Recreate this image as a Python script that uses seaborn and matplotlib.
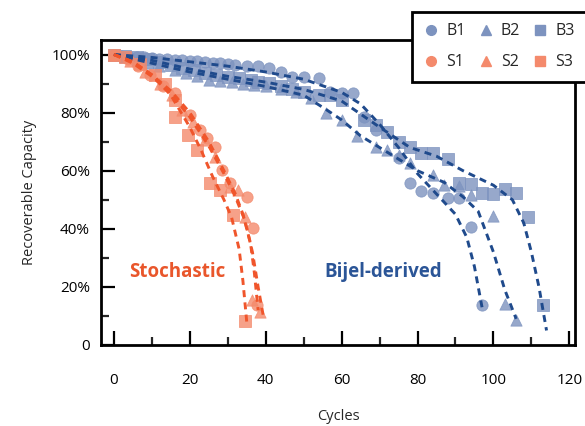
import matplotlib
matplotlib.use("Agg")
import matplotlib.pyplot as plt
from matplotlib.lines import Line2D
import seaborn as sns
import pandas as pd

# Measured capacity retention (cycle number, % of initial capacity)
B1_cycles = [0, 2, 4, 6, 8, 10, 12, 14, 16, 18, 20, 22, 24, 26, 28, 30, 32, 35, 38, 41,
             44, 47, 50, 54, 57, 60, 63, 66, 69, 75, 78, 81, 84, 88, 91, 94, 97]
B1_cap = [100, 99.5, 99.3, 99, 99, 98.8, 98.5, 98.3, 98.2, 98, 97.8, 97.6, 97.5, 97.2, 97,
          96.8, 96.5, 96.2, 95.9, 95.5, 94.1, 92.4, 92.4, 92, 87.2, 86.9, 86.9, 78.6, 74,
          64.5, 55.9, 53.1, 52.4, 50.7, 50.7, 40.7, 13.8]

B2_cycles = [0, 3, 6, 9, 12, 16, 19, 22, 25, 28, 31, 34, 37, 40, 44, 48, 52, 56, 60, 64,
             69, 72, 75, 78, 84, 87, 91, 94, 100, 103, 106]
B2_cap = [100, 99, 98, 97, 96, 94.5, 93.5, 92.5, 91.4, 91, 90.5, 90, 89.5, 89, 88, 87, 85,
          80, 77.6, 72, 68.3, 67, 65.5, 62.8, 58.6, 55.2, 54.8, 51.7, 44.5, 14.1, 8.6]

B3_cycles = [0, 3, 6, 9, 12, 15, 18, 21, 24, 27, 30, 33, 36, 38, 41, 44, 47, 50, 54, 57,
             60, 66, 69, 72, 75, 78, 81, 84, 88, 91, 94, 97, 100, 103, 106, 109, 113]
B3_cap = [100, 99.5, 99, 98.5, 97.5, 96.5, 95.5, 94.5, 93.8, 93, 92.4, 91.8, 91.2, 90.7,
          90.3, 89, 88.3, 87.2, 86.2, 86.2, 84.5, 77.6, 75.9, 73.4, 70, 68.3, 66.2, 66.2,
          64.1, 55.9, 55.5, 52.4, 52.1, 53.8, 52.4, 44.1, 13.8]

S1_cycles = [0, 3.7, 6.3, 9.5, 12.9, 16, 20, 22.7, 24.5, 26.6, 28.5, 30.6, 35.1, 36.7, 37.7]
S1_cap = [100, 98.3, 95.9, 93.1, 89, 86.9, 79.3, 74.1, 71.4, 68.3, 60.3, 55.9, 51, 40.3, 13.8]

S2_cycles = [0, 4.2, 8.2, 12.1, 15.3, 17.9, 20.8, 24, 26.6, 30.6, 32.7, 34.6, 36.4, 38.5]
S2_cap = [100, 97.6, 94.1, 89.7, 86.2, 81, 76.6, 70.7, 64.8, 54.5, 53.4, 44.1, 15.5, 11.4]

S3_cycles = [0, 2.9, 6.9, 10.8, 13.5, 16, 16.1, 19.5, 22, 25.3, 28, 31.4, 34.6]
S3_cap = [100, 99, 96.6, 93.1, 89.7, 84.5, 78.6, 72.4, 67, 55.9, 53.4, 44.8, 8.3]

# Fitted fade curves
B1_fit_x = [0, 10, 20, 30, 40, 50, 60, 65, 70, 75, 80, 85, 90, 93, 95, 97]
B1_fit_y = [100, 99, 97.5, 96, 94, 91.5, 87, 83, 76, 68, 59, 52, 45, 37, 27, 13]
B2_fit_x = [0, 10, 20, 30, 40, 50, 56, 60, 65, 70, 75, 80, 87, 92, 96, 100, 103, 106]
B2_fit_y = [100, 97, 94, 91.5, 89, 86, 81, 77.5, 72, 68, 64, 60, 56, 51, 46, 32, 19, 9]
B3_fit_x = [0, 10, 20, 30, 40, 50, 60, 70, 78, 85, 92, 100, 105, 108, 110, 112, 114]
B3_fit_y = [100, 98, 95, 92.5, 90.5, 88, 84, 75, 68, 65, 60, 55, 50, 42, 32, 20, 5]
S1_fit_x = [0, 5, 10, 15, 20, 25, 29, 32, 34, 36, 37, 38]
S1_fit_y = [100, 97.5, 93, 87.5, 80, 70, 60, 52, 45, 35, 25, 12]
S2_fit_x = [0, 5, 10, 15, 20, 25, 29, 32, 34.5, 36.5, 38, 39.5]
S2_fit_y = [100, 97, 92.5, 86.5, 78.5, 68.5, 59, 51, 43, 32, 20, 9]
S3_fit_x = [0, 5, 10, 15, 20, 23, 26, 29, 31, 33, 34, 35]
S3_fit_y = [100, 97.5, 93, 86, 75, 67, 58, 50, 44, 33, 22, 8]

series_names = ["B1", "B2", "B3", "S1", "S2", "S3"]
x_ticks = [0, 20, 40, 60, 80, 100, 120]
y_ticks = [0, 20, 40, 60, 80, 100]
y_tick_labels = ["0", "20%", "40%", "60%", "80%", "100%"]

points = {"B1": (B1_cycles, B1_cap), "B2": (B2_cycles, B2_cap), "B3": (B3_cycles, B3_cap),
          "S1": (S1_cycles, S1_cap), "S2": (S2_cycles, S2_cap), "S3": (S3_cycles, S3_cap)}
fits = {"B1": (B1_fit_x, B1_fit_y), "B2": (B2_fit_x, B2_fit_y), "B3": (B3_fit_x, B3_fit_y),
        "S1": (S1_fit_x, S1_fit_y), "S2": (S2_fit_x, S2_fit_y), "S3": (S3_fit_x, S3_fit_y)}

marker_of = {"1": "o", "2": "^", "3": "s"}
blue_pt, blue_ln = "#7d93bf", "#1f4a8c"
red_pt, red_ln = "#f48a6c", "#f0552b"

sns.set_theme(style="ticks")
plt.rcParams["font.family"] = ["Open Sans", "DejaVu Sans"]

fig = plt.figure(figsize=(5.85, 4.26), dpi=100)
ax = fig.add_axes([101 / 585, 1 - 345 / 426, (575 - 101) / 585, (345 - 40) / 426])

for name in series_names:
    px, py = points[name]
    fx, fy = fits[name]
    is_b = name.startswith("B")
    pc = blue_pt if is_b else red_pt
    lc = blue_ln if is_b else red_ln
    pts = pd.DataFrame({"cycle": px, "cap": py})
    fit = pd.DataFrame({"cycle": fx, "cap": fy})
    sns.scatterplot(data=pts, x="cycle", y="cap", ax=ax, color=pc,
                    marker=marker_of[name[1]], s=66, alpha=0.8,
                    edgecolor=pc, linewidth=0.6, zorder=2, legend=False)
    sns.lineplot(data=fit, x="cycle", y="cap", ax=ax, color=lc, lw=2.1,
                 linestyle=(0, (2.4, 1.8)), zorder=3, legend=False)

ax.set_xlim(-3.4, 121.5)
ax.set_ylim(0, 105)
ax.set_xticks(x_ticks)
ax.set_xticks([10, 30, 50, 70, 90, 110], minor=True)
ax.set_yticks(y_ticks)
ax.set_yticklabels(y_tick_labels)
ax.set_yticks([10, 30, 50, 70, 90], minor=True)
ax.tick_params(axis="both", which="major", direction="in", length=10, width=1.6,
               labelsize=11, colors="black")
ax.tick_params(axis="both", which="minor", direction="in", length=6, width=1.6)
ax.tick_params(axis="x", which="major", pad=20)
ax.tick_params(axis="y", which="major", pad=8)
for s in ax.spines.values():
    s.set_linewidth(2.0)
    s.set_color("black")

ax.set_xlabel("Cycles", fontsize=10.5, labelpad=15)
ax.set_ylabel("Recoverable Capacity", fontsize=10.5, labelpad=10)

ax.text(16.6, 25.2, "Stochastic", color="#e9562b", fontsize=13.5, fontweight="bold",
        ha="center", va="center")
ax.text(71, 25.2, "Bijel-derived", color="#2b5597", fontsize=13.5, fontweight="bold",
        ha="center", va="center")

# Legend: B-series on the first row, S-series on the second
handles = []
labels = []
for k in ["1", "2", "3"]:
    for grp, col in (("B", blue_pt), ("S", red_pt)):
        handles.append(Line2D([], [], ls="none", marker=marker_of[k], markersize=7,
                              markerfacecolor=col, markeredgecolor=col))
        labels.append(grp + k)
leg = fig.legend(handles, labels, ncol=3, loc="upper left",
                 bbox_to_anchor=(404 / 585, 1 - 4 / 426), frameon=True, fancybox=False,
                 fontsize=11.5, handletextpad=0.45, columnspacing=0.75,
                 handlelength=1.0, borderpad=0.7, labelspacing=0.95)
leg.get_frame().set_edgecolor("black")
leg.get_frame().set_linewidth(2.0)
leg.get_frame().set_facecolor("white")
leg.get_frame().set_alpha(1)
leg.set_zorder(10)

fig.savefig("out.png", dpi=100)
